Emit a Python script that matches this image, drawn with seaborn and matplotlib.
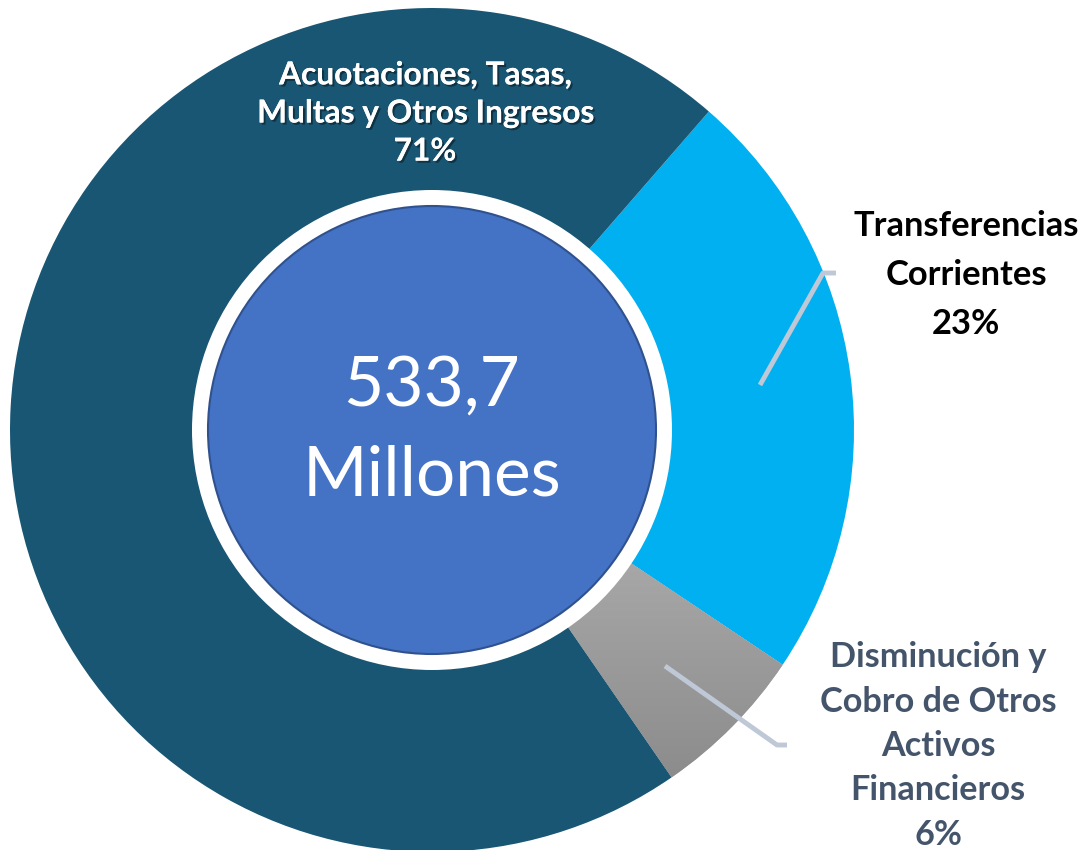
import numpy as np
import matplotlib
matplotlib.use("Agg")
import matplotlib.pyplot as plt
import matplotlib.patheffects as pe
from matplotlib.patches import Circle
from matplotlib.colors import LinearSegmentedColormap
import seaborn as sns

# datos (orden de dibujo, en sentido horario desde arriba a la derecha)
categorias = ["Transferencias\nCorrientes",
              "Disminución y\nCobro de Otros\nActivos\nFinancieros",
              "Acuotaciones, Tasas,\nMultas y Otros Ingresos"]
porcentajes = [23, 6, 71]
colores = ["#00B0F0", "#A6A6A6", "#195673"]
total = "533,7"
unidad = "Millones"

sns.set_theme(style="white")
plt.rcParams["font.family"] = ["Lato", "DejaVu Sans"]

fig = plt.figure(figsize=(10.81, 8.5), dpi=100)
ax = fig.add_axes([0, 0, 1, 1])

cx, cy, r = 432, 420, 422
wedges, _ = ax.pie(porcentajes, colors=colores, startangle=49.0, counterclock=False,
                   center=(cx, cy), radius=r, frame=True,
                   wedgeprops=dict(linewidth=0))

# degradado gris en la porcion pequena
gris = wedges[1]
ext = gris.get_path().get_extents()
cmap = LinearSegmentedColormap.from_list("gris", ["#B8B8B8", "#8C8C8C"])
img = ax.imshow(np.linspace(0, 1, 256).reshape(-1, 1), cmap=cmap, aspect="auto",
                extent=(ext.x0, ext.x1, ext.y0, ext.y1), origin="upper", zorder=2)
img.set_clip_path(gris)

# circulo central
ax.add_patch(Circle((cx, cy), 240, facecolor="white", edgecolor="none", zorder=3))
ax.add_patch(Circle((cx, cy), 224, facecolor="#4472C4", edgecolor="#2F528F", lw=1.5, zorder=4))
ax.text(cx, cy + 44, total, ha="center", va="center", color="white", fontsize=50, zorder=5)
ax.text(cx, cy - 46, unidad, ha="center", va="center", color="white", fontsize=50, zorder=5)

# lineas guia
guia = "#BFC8D6"
ax.plot([760, 823, 836], [465, 577, 577], color=guia, lw=3.5, solid_capstyle="butt", zorder=6)
ax.plot([665, 777, 787], [184, 105, 105], color=guia, lw=3.5, solid_capstyle="butt", zorder=6)

# etiquetas
etiq = [f"{c}\n{p}%" for c, p in zip(categorias, porcentajes)]
ax.text(966, 575, etiq[0], ha="center", va="center", color="black",
        fontsize=24.8, fontweight="bold", linespacing=1.66)
ax.text(938, 104, etiq[1], ha="center", va="center", color="#44546A",
        fontsize=24.7, fontweight="bold", linespacing=1.48)
ax.text(425, 737, etiq[2], ha="center", va="center", color="white",
        fontsize=22.8, fontweight="bold", linespacing=1.38, zorder=6,
        path_effects=[pe.withSimplePatchShadow(offset=(1.5, -1.5), shadow_rgbFace="black", alpha=0.4),
                      pe.Normal()])

ax.set_xlim(0, 1081)
ax.set_ylim(0, 850)
ax.set_aspect("equal")
ax.axis("off")

fig.savefig("out.png", dpi=100, facecolor="white")
